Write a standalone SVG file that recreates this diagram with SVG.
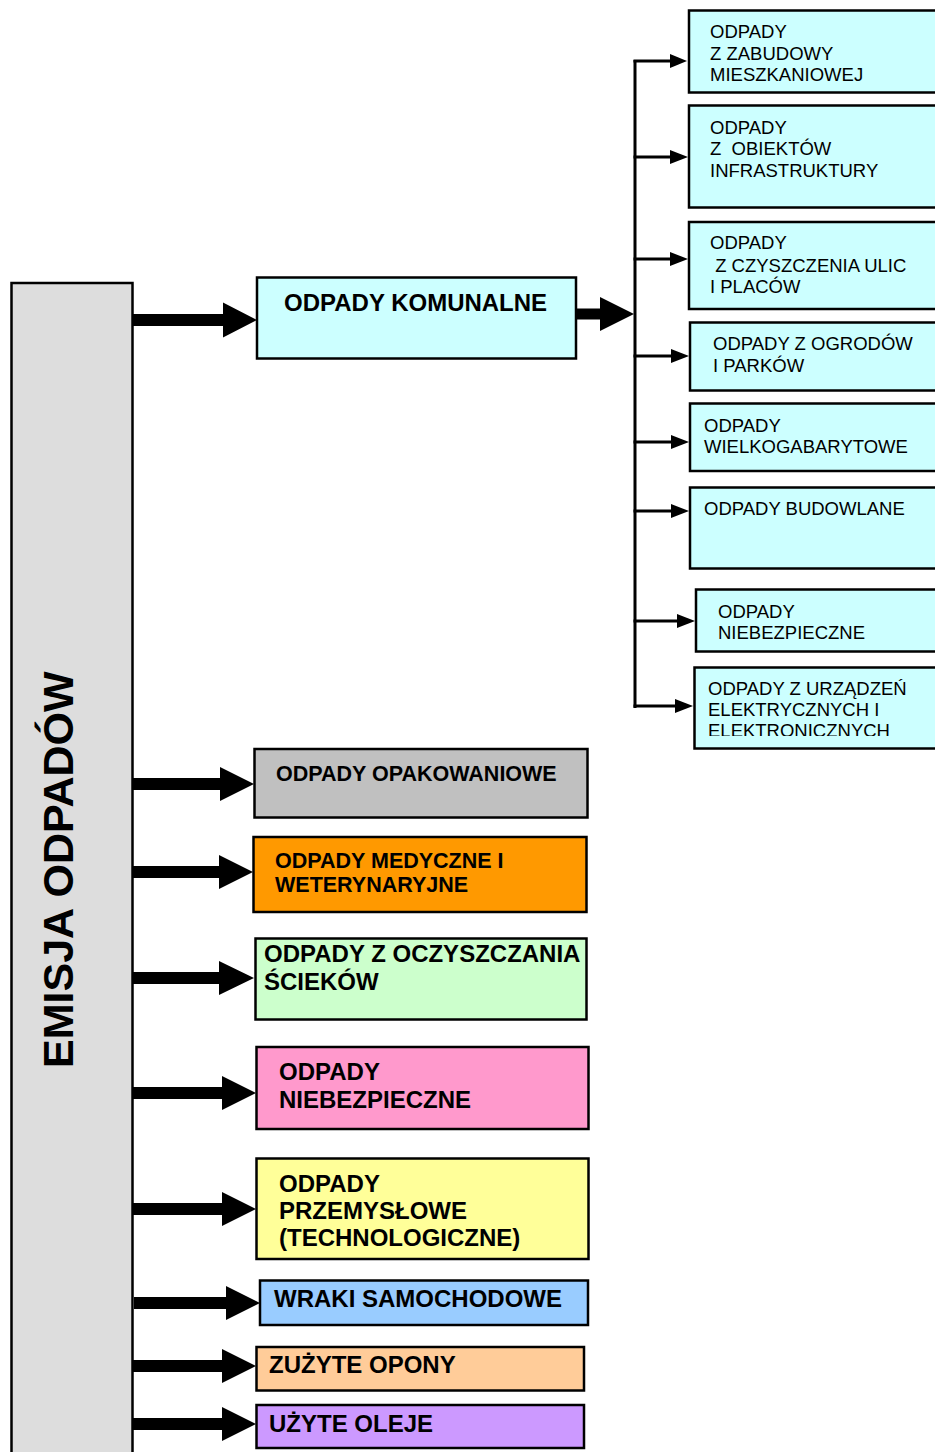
<svg xmlns="http://www.w3.org/2000/svg" width="935" height="1452" viewBox="0 0 935 1452">
<style>
.box{stroke:#000;stroke-width:2.5}
.r{font-family:"Liberation Sans",Arial,sans-serif;font-size:18.5px;fill:#000;white-space:pre}
.b{font-family:"Liberation Sans",Arial,sans-serif;font-weight:bold;font-size:24px;fill:#000;white-space:pre}
.b21{font-size:21.5px}
.ah{fill:#000}
.thin{stroke:#000;stroke-width:3;fill:none}
</style>
<defs>
<clipPath id="clip8"><rect x="694" y="667" width="260" height="69"/></clipPath>
</defs>
<rect width="935" height="1452" fill="#fff"/>

<g id="connectors">
  <polygon class="ah" points="132,314 223,314 223,302.5 257,320 223,337.5 223,326 132,326"/>
  <polygon class="ah" points="132,778 220,778 220,767 254,784 220,801 220,790 132,790"/>
  <polygon class="ah" points="129,866 219,866 219,855 253,872 219,889 219,878 129,878"/>
  <polygon class="ah" points="129,972 219,972 219,961 254,978 219,995 219,984 129,984"/>
  <polygon class="ah" points="132,1087 222,1087 222,1076 256,1093 222,1110 222,1099 132,1099"/>
  <polygon class="ah" points="132,1203 222,1203 222,1192 256,1209 222,1226 222,1215 132,1215"/>
  <polygon class="ah" points="134,1297 226,1297 226,1286 260,1303 226,1320 226,1309 134,1309"/>
  <polygon class="ah" points="132,1360 222,1360 222,1349 256,1366 222,1383 222,1372 132,1372"/>
  <polygon class="ah" points="132,1418 222,1418 222,1407 256,1424 222,1441 222,1430 132,1430"/>
  <polygon class="ah" points="576,308.5 600,308.5 600,297 634,314 600,331 600,319.5 576,319.5"/>
  <line class="thin" x1="635" y1="60" x2="635" y2="708"/>
  <line class="thin" x1="633.5" y1="61" x2="674" y2="61"/>
  <polygon class="ah" points="670,54 687,61 670,68"/>
  <line class="thin" x1="633.5" y1="157" x2="674" y2="157"/>
  <polygon class="ah" points="670,150 688,157 670,164"/>
  <line class="thin" x1="633.5" y1="259" x2="674" y2="259"/>
  <polygon class="ah" points="670,252 688,259 670,266"/>
  <line class="thin" x1="633.5" y1="356" x2="675" y2="356"/>
  <polygon class="ah" points="671,349 689,356 671,363"/>
  <line class="thin" x1="633.5" y1="442" x2="675" y2="442"/>
  <polygon class="ah" points="671,435 689,442 671,449"/>
  <line class="thin" x1="633.5" y1="511" x2="675" y2="511"/>
  <polygon class="ah" points="671,504 689,511 671,518"/>
  <line class="thin" x1="633.5" y1="621" x2="681" y2="621"/>
  <polygon class="ah" points="677,614 695,621 677,628"/>
  <line class="thin" x1="633.5" y1="706" x2="679" y2="706"/>
  <polygon class="ah" points="675,699 693,706 675,713"/>
</g>

<g id="emisja">
  <rect class="box" x="11.5" y="283" width="121" height="1200" fill="#DDDDDD" stroke-width="3"/>
  <text class="b" transform="translate(73,1068) rotate(-90)" style="font-size:43px">EMISJA ODPADÓW</text>
</g>

<g id="komunalne">
  <rect class="box" x="257" y="277.5" width="319" height="81" fill="#CCFFFF"/>
  <text class="b" x="284" y="311">ODPADY KOMUNALNE</text>
</g>

<g id="r1">
  <rect class="box" x="689" y="10.5" width="260" height="82" fill="#CCFFFF"/>
  <text class="r" x="710" y="38">ODPADY</text>
  <text class="r" x="710" y="60">Z ZABUDOWY</text>
  <text class="r" x="710" y="81">MIESZKANIOWEJ</text>
</g>
<g id="r2">
  <rect class="box" x="689" y="105.5" width="260" height="102" fill="#CCFFFF"/>
  <text class="r" x="710" y="134">ODPADY</text>
  <text class="r" x="710" y="155">Z  OBIEKTÓW</text>
  <text class="r" x="710" y="177">INFRASTRUKTURY</text>
</g>
<g id="r3">
  <rect class="box" x="689" y="222" width="260" height="87" fill="#CCFFFF"/>
  <text class="r" x="710" y="249">ODPADY</text>
  <text class="r" x="710" y="272"> Z CZYSZCZENIA ULIC</text>
  <text class="r" x="710" y="293">I PLACÓW</text>
</g>
<g id="r4">
  <rect class="box" x="690" y="322.5" width="260" height="68" fill="#CCFFFF"/>
  <text class="r" x="713" y="350">ODPADY Z OGRODÓW</text>
  <text class="r" x="713" y="372">I PARKÓW</text>
</g>
<g id="r5">
  <rect class="box" x="690" y="403.5" width="260" height="67.5" fill="#CCFFFF"/>
  <text class="r" x="704" y="432">ODPADY</text>
  <text class="r" x="704" y="453">WIELKOGABARYTOWE</text>
</g>
<g id="r6">
  <rect class="box" x="690" y="487.5" width="260" height="81" fill="#CCFFFF"/>
  <text class="r" x="704" y="515">ODPADY BUDOWLANE</text>
</g>
<g id="r7">
  <rect class="box" x="696" y="589.5" width="260" height="62" fill="#CCFFFF"/>
  <text class="r" x="718" y="618">ODPADY</text>
  <text class="r" x="718" y="639">NIEBEZPIECZNE</text>
</g>
<g id="r8">
  <rect class="box" x="694.5" y="667.5" width="260" height="81" fill="#CCFFFF"/>
  <g clip-path="url(#clip8)">
    <text class="r" x="708" y="695">ODPADY Z URZĄDZEŃ</text>
    <text class="r" x="708" y="716">ELEKTRYCZNYCH I</text>
    <text class="r" x="708" y="737">ELEKTRONICZNYCH</text>
  </g>
</g>

<g id="opakowaniowe">
  <rect class="box" x="254.5" y="749" width="333" height="68.5" fill="#C0C0C0"/>
  <text class="b b21" x="276" y="781">ODPADY OPAKOWANIOWE</text>
</g>
<g id="medyczne">
  <rect class="box" x="253.5" y="837" width="333" height="75" fill="#FF9900"/>
  <text class="b b21" x="275" y="868">ODPADY MEDYCZNE I</text>
  <text class="b b21" x="275" y="892">WETERYNARYJNE</text>
</g>
<g id="scieki">
  <rect class="box" x="255.5" y="938.5" width="331" height="81" fill="#CCFFCC"/>
  <text class="b" x="264" y="962">ODPADY Z OCZYSZCZANIA</text>
  <text class="b" x="264" y="990">ŚCIEKÓW</text>
</g>
<g id="niebezpieczne">
  <rect class="box" x="256.5" y="1047" width="332" height="82" fill="#FF99CC"/>
  <text class="b" x="279" y="1080">ODPADY</text>
  <text class="b" x="279" y="1108">NIEBEZPIECZNE</text>
</g>
<g id="przemyslowe">
  <rect class="box" x="256.5" y="1158.5" width="332" height="100.5" fill="#FFFF99"/>
  <text class="b" x="279" y="1192">ODPADY</text>
  <text class="b" x="279" y="1219">PRZEMYSŁOWE</text>
  <text class="b" x="279" y="1246">(TECHNOLOGICZNE)</text>
</g>
<g id="wraki">
  <rect class="box" x="260" y="1280.5" width="328" height="44.5" fill="#99CCFF"/>
  <text class="b" x="274" y="1307">WRAKI SAMOCHODOWE</text>
</g>
<g id="opony">
  <rect class="box" x="256.5" y="1347" width="327.5" height="43.5" fill="#FFCC99"/>
  <text class="b" x="269" y="1373">ZUŻYTE OPONY</text>
</g>
<g id="oleje">
  <rect class="box" x="256.5" y="1405" width="327.5" height="43" fill="#CC99FF"/>
  <text class="b" x="269" y="1432">UŻYTE OLEJE</text>
</g>
</svg>
